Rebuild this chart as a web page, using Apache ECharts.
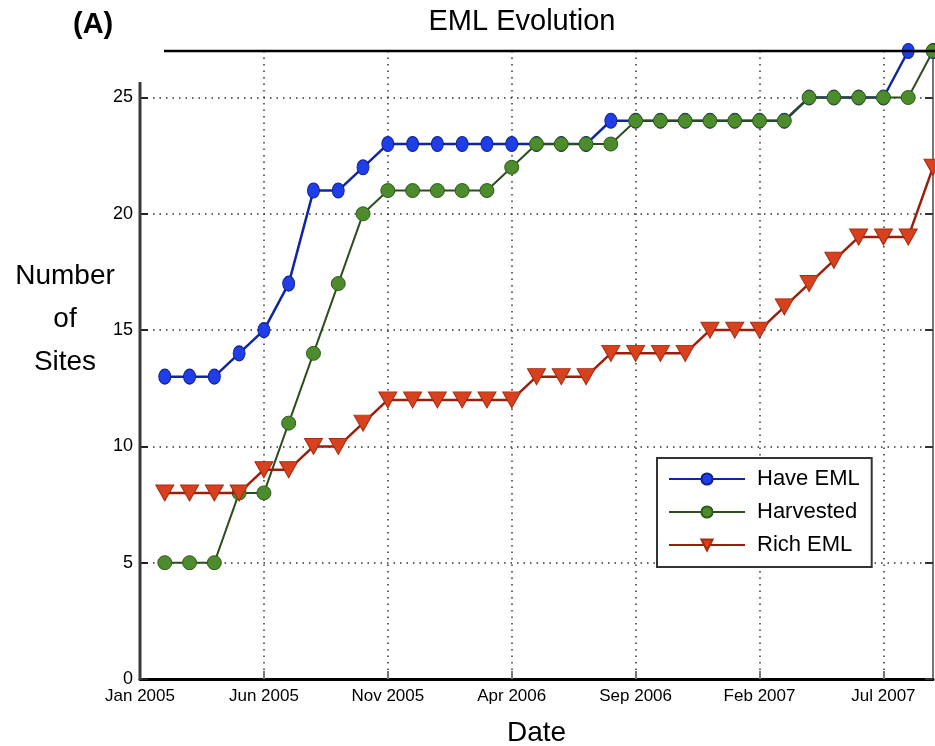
<!DOCTYPE html>
<html>
<head>
<meta charset="utf-8">
<script src="https://cdn.jsdelivr.net/npm/echarts@6/dist/echarts.min.js"></script>
<style>
  html, body { margin: 0; padding: 0; background: #fff; }
  #chart { width: 935px; height: 746px; }
</style>
</head>
<body>
<div id="chart"></div>
<script>
// Month categories of the x axis (Jan 2005 .. Sep 2007)
const months = [
  'Jan 2005','Feb 2005','Mar 2005','Apr 2005','May 2005','Jun 2005','Jul 2005','Aug 2005','Sep 2005','Oct 2005','Nov 2005','Dec 2005',
  'Jan 2006','Feb 2006','Mar 2006','Apr 2006','May 2006','Jun 2006','Jul 2006','Aug 2006','Sep 2006','Oct 2006','Nov 2006','Dec 2006',
  'Jan 2007','Feb 2007','Mar 2007','Apr 2007','May 2007','Jun 2007','Jul 2007','Aug 2007','Sep 2007'
];
// Observations, one per month from Feb 2005 to Sep 2007
const haveEml   = [13,13,13,14,15,17,21,21,22,23,23,23,23,23,23,23,23,23,24,24,24,24,24,24,24,24,25,25,25,25,27,27];
const harvested = [5,5,5,8,8,11,14,17,20,21,21,21,21,21,22,23,23,23,23,24,24,24,24,24,24,24,25,25,25,25,25,27];
const richEml   = [8,8,8,8,9,9,10,10,11,12,12,12,12,12,12,13,13,13,14,14,14,14,15,15,15,16,17,18,19,19,19,22];
const yTicks = [0,5,10,15,20,25];

const toPairs = arr => arr.map((v, i) => [i + 1, v]);

const font = "'Liberation Sans', Arial, sans-serif";
const gridLine = { color: '#333', width: 1.5, type: [1.5, 5] };

const chart = echarts.init(document.getElementById('chart'), null, { renderer: 'canvas' });
chart.setOption({
  animation: false,
  backgroundColor: '#fff',
  textStyle: { fontFamily: font },
  grid: { left: 140, right: 2, top: 51, bottom: 67, containLabel: false, outerBoundsMode: 'none' },
  legend: {
    orient: 'vertical',
    left: 657, top: 458,
    padding: [10, 12, 11, 11],
    backgroundColor: '#fff',
    borderColor: '#333', borderWidth: 2, borderRadius: 0,
    itemWidth: 76, itemHeight: 14, itemGap: 11,
    textStyle: { fontSize: 22, color: '#000', lineHeight: 22, padding: [0, 0, 0, 7], fontFamily: font },
    data: ['Have EML', 'Harvested', 'Rich EML']
  },
  xAxis: {
    type: 'category',
    data: months,
    boundaryGap: false,
    axisLine: { lineStyle: { color: '#000', width: 3 } },
    axisTick: { inside: true, interval: 4, length: 8, lineStyle: { color: '#777', width: 2 } },
    axisLabel: { interval: 4, fontSize: 17, color: '#000', margin: 9, fontFamily: font },
    splitLine: { show: true, interval: 4, showMinLine: false, lineStyle: gridLine },
    name: 'Date', nameLocation: 'middle', nameGap: 40,
    nameTextStyle: { fontSize: 28, color: '#000', fontFamily: font }
  },
  yAxis: [{
    type: 'value', min: 0, max: 27, interval: 5,
    axisLine: { show: false },
    axisTick: { show: true, inside: true, length: 8, customValues: yTicks, lineStyle: { color: '#222', width: 2 } },
    axisLabel: { fontSize: 18, color: '#000', margin: 7, customValues: yTicks, fontFamily: font },
    splitLine: { show: true, showMinLine: false, lineStyle: gridLine }
  }, {
    type: 'value', min: 0, max: 27, interval: 5, position: 'right',
    axisLine: { show: true, lineStyle: { color: '#777', width: 2 } },
    axisTick: { show: true, inside: true, length: 8, customValues: yTicks, lineStyle: { color: '#333', width: 2 } },
    axisLabel: { show: false },
    splitLine: { show: false }
  }],
  series: [
    {
      name: 'Have EML', type: 'line', data: toPairs(haveEml),
      symbol: 'circle', symbolSize: [12, 15], showAllSymbol: true,
      lineStyle: { color: '#10269e', width: 2.5 },
      itemStyle: { color: '#1f3de8', borderColor: '#0d2290', borderWidth: 1 },
      z: 2
    },
    {
      name: 'Harvested', type: 'line', data: toPairs(harvested),
      symbol: 'circle', symbolSize: 14, showAllSymbol: true,
      lineStyle: { color: '#2c4e1c', width: 2 },
      itemStyle: { color: '#4c8c2c', borderColor: '#2e5a1a', borderWidth: 1 },
      z: 3
    },
    {
      name: 'Rich EML', type: 'line', data: toPairs(richEml),
      symbol: 'triangle', symbolRotate: 180, symbolSize: [18, 16], showAllSymbol: true,
      lineStyle: { color: '#9a1e0c', width: 2.5 },
      itemStyle: { color: '#d8411d', borderColor: '#a52a10', borderWidth: 1 },
      z: 4
    }
  ],
  graphic: [
    { type: 'line', z: 50, shape: { x1: 140, y1: 82, x2: 140, y2: 680 }, style: { stroke: '#3a3a3a', lineWidth: 3 } },
    { type: 'line', z: 50, shape: { x1: 164, y1: 51, x2: 935, y2: 51 }, style: { stroke: '#000', lineWidth: 2.5 } },
    { type: 'text', z: 50, x: 73, y: 25, style: { text: '(A)', font: "bold 29px 'Liberation Sans', Arial, sans-serif", fill: '#000', textAlign: 'left', textVerticalAlign: 'middle' } },
    { type: 'text', z: 50, x: 522, y: 22, style: { text: 'EML Evolution', font: "29px 'Liberation Sans', Arial, sans-serif", fill: '#000', textAlign: 'center', textVerticalAlign: 'middle' } },
    { type: 'text', z: 50, x: 65, y: 319, style: { text: 'Number\nof\nSites', font: "28px 'Liberation Sans', Arial, sans-serif", lineHeight: 43, fill: '#000', textAlign: 'center', textVerticalAlign: 'middle' } }
  ]
});
</script>
</body>
</html>
